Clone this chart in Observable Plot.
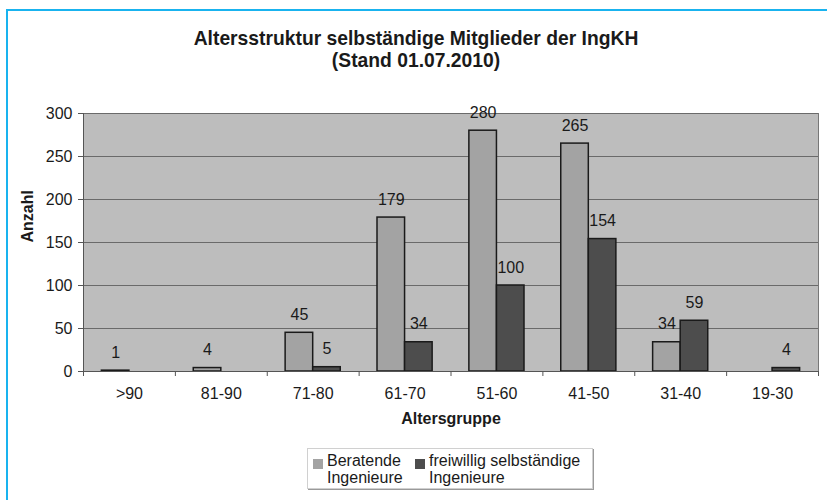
<!DOCTYPE html>
<html>
<head>
<meta charset="utf-8">
<script src="https://cdn.jsdelivr.net/npm/d3@7"></script>
<script src="https://cdn.jsdelivr.net/npm/@observablehq/plot@0.6"></script>
<style>
  html, body { margin: 0; padding: 0; background: #fff; width: 827px; height: 500px; overflow: hidden; }
  body { position: relative; font-family: "Liberation Sans", Arial, sans-serif; color: #1a1a1a; }
  #frame { position: absolute; left: 6px; top: 9px; width: 900px; height: 600px; border: 2px solid #19b3ef; box-sizing: border-box; }
  #title { position: absolute; left: 116px; width: 600px; top: 28px; text-align: center; font-weight: bold; font-size: 19.3px; line-height: 22px; }
  #chart { position: absolute; left: 0; top: 90px; }
  #legend { position: absolute; left: 307px; top: 448px; width: 286px; height: 41px; box-sizing: border-box;
            border: 1px solid #d0d0d0; box-shadow: 1px 1px 0 #9a9a9a; font-size: 16px; line-height: 17px; }
  .item { position: absolute; top: 3px; }
  .sw { position: absolute; top: 7px; width: 10px; height: 10px; }
  .lbl { position: absolute; left: 14px; white-space: nowrap; }
</style>
</head>
<body>
<div id="frame"></div>
<div id="title"></div>
<div id="chart"></div>
<div id="legend"></div>
<script>
const titleLines = ["Altersstruktur selbständige Mitglieder der IngKH", "(Stand 01.07.2010)"];
const ageGroups = [">90", "81-90", "71-80", "61-70", "51-60", "41-50", "31-40", "19-30"];
const seriesNames = ["Beratende Ingenieure", "freiwillig selbständige Ingenieure"];
const legendLines = [["Beratende", "Ingenieure"], ["freiwillig selbständige", "Ingenieure"]];
const beratende = [1, 4, 45, 179, 280, 265, 34, 0];
const freiwillig = [0, 0, 5, 34, 100, 154, 59, 4];
const yTicks = [0, 50, 100, 150, 200, 250, 300];
const yLabel = "Anzahl";
const xLabel = "Altersgruppe";
const colors = ["#a3a3a3", "#4d4d4d"];

const data = ageGroups.flatMap((g, i) => [
  {i, group: g, series: seriesNames[0], k: 0, value: beratende[i]},
  {i, group: g, series: seriesNames[1], k: 1, value: freiwillig[i]}
]);
const shown = data.filter(d => d.value > 0);
const BAR = 0.3;

document.getElementById("title").innerHTML = titleLines.join("<br>");

const chart = Plot.plot({
  width: 827,
  height: 345,
  marginTop: 23,
  marginBottom: 64,
  marginLeft: 83,
  marginRight: 9,
  style: {fontFamily: "'Liberation Sans', Arial, sans-serif", fontSize: "16px", color: "#1a1a1a", background: "transparent", overflow: "visible"},
  x: {type: "linear", domain: [-0.5, ageGroups.length - 0.5]},
  y: {domain: [0, 300]},
  color: {domain: seriesNames, range: colors},
  marks: [
    Plot.frame({fill: "#bdbdbd", stroke: "#777"}),
    Plot.ruleY(yTicks.filter(v => v > 0), {stroke: "#6a6a6a", strokeWidth: 1}),
    Plot.rect(shown, {
      x1: d => d.i - BAR + d.k * BAR,
      x2: d => d.i + d.k * BAR,
      y1: 0,
      y2: "value",
      fill: "series",
      stroke: "#1a1a1a",
      strokeWidth: 1.5
    }),
    Plot.text(shown, {
      x: d => d.i - BAR / 2 + d.k * BAR,
      y: "value",
      text: d => String(d.value),
      dy: -18,
      fontSize: 16,
      fill: "#1a1a1a"
    }),
    Plot.ruleX([-0.5], {stroke: "#555"}),
    Plot.ruleY([0], {stroke: "#555"}),
    Plot.axisY({ticks: yTicks, tickSize: 5, tickPadding: 6, label: null, fontSize: 16, stroke: "#555"}),
    Plot.axisX({ticks: d3.range(-0.5, ageGroups.length, 1), tickSize: 5, tickFormat: () => "", label: null, stroke: "#555"}),
    Plot.axisX({ticks: d3.range(ageGroups.length), tickSize: 0, tickPadding: 16, tickFormat: i => ageGroups[i], label: null, fontSize: 16}),
    Plot.text([yLabel], {text: d => d, frameAnchor: "left", lineAnchor: "middle", dx: -56, rotate: -90, fontWeight: "bold", fontSize: 16}),
    Plot.text([xLabel], {text: d => d, frameAnchor: "bottom", lineAnchor: "middle", dy: 47, fontWeight: "bold", fontSize: 16})
  ]
});
document.getElementById("chart").appendChild(chart);

const legend = document.getElementById("legend");
const offsets = [5, 107];
seriesNames.forEach((s, j) => {
  const item = document.createElement("div");
  item.className = "item";
  item.style.left = offsets[j] + "px";
  item.innerHTML = `<div class="sw" style="background:${colors[j]}"></div><div class="lbl">${legendLines[j].join("<br>")}</div>`;
  legend.appendChild(item);
});
</script>
</body>
</html>
